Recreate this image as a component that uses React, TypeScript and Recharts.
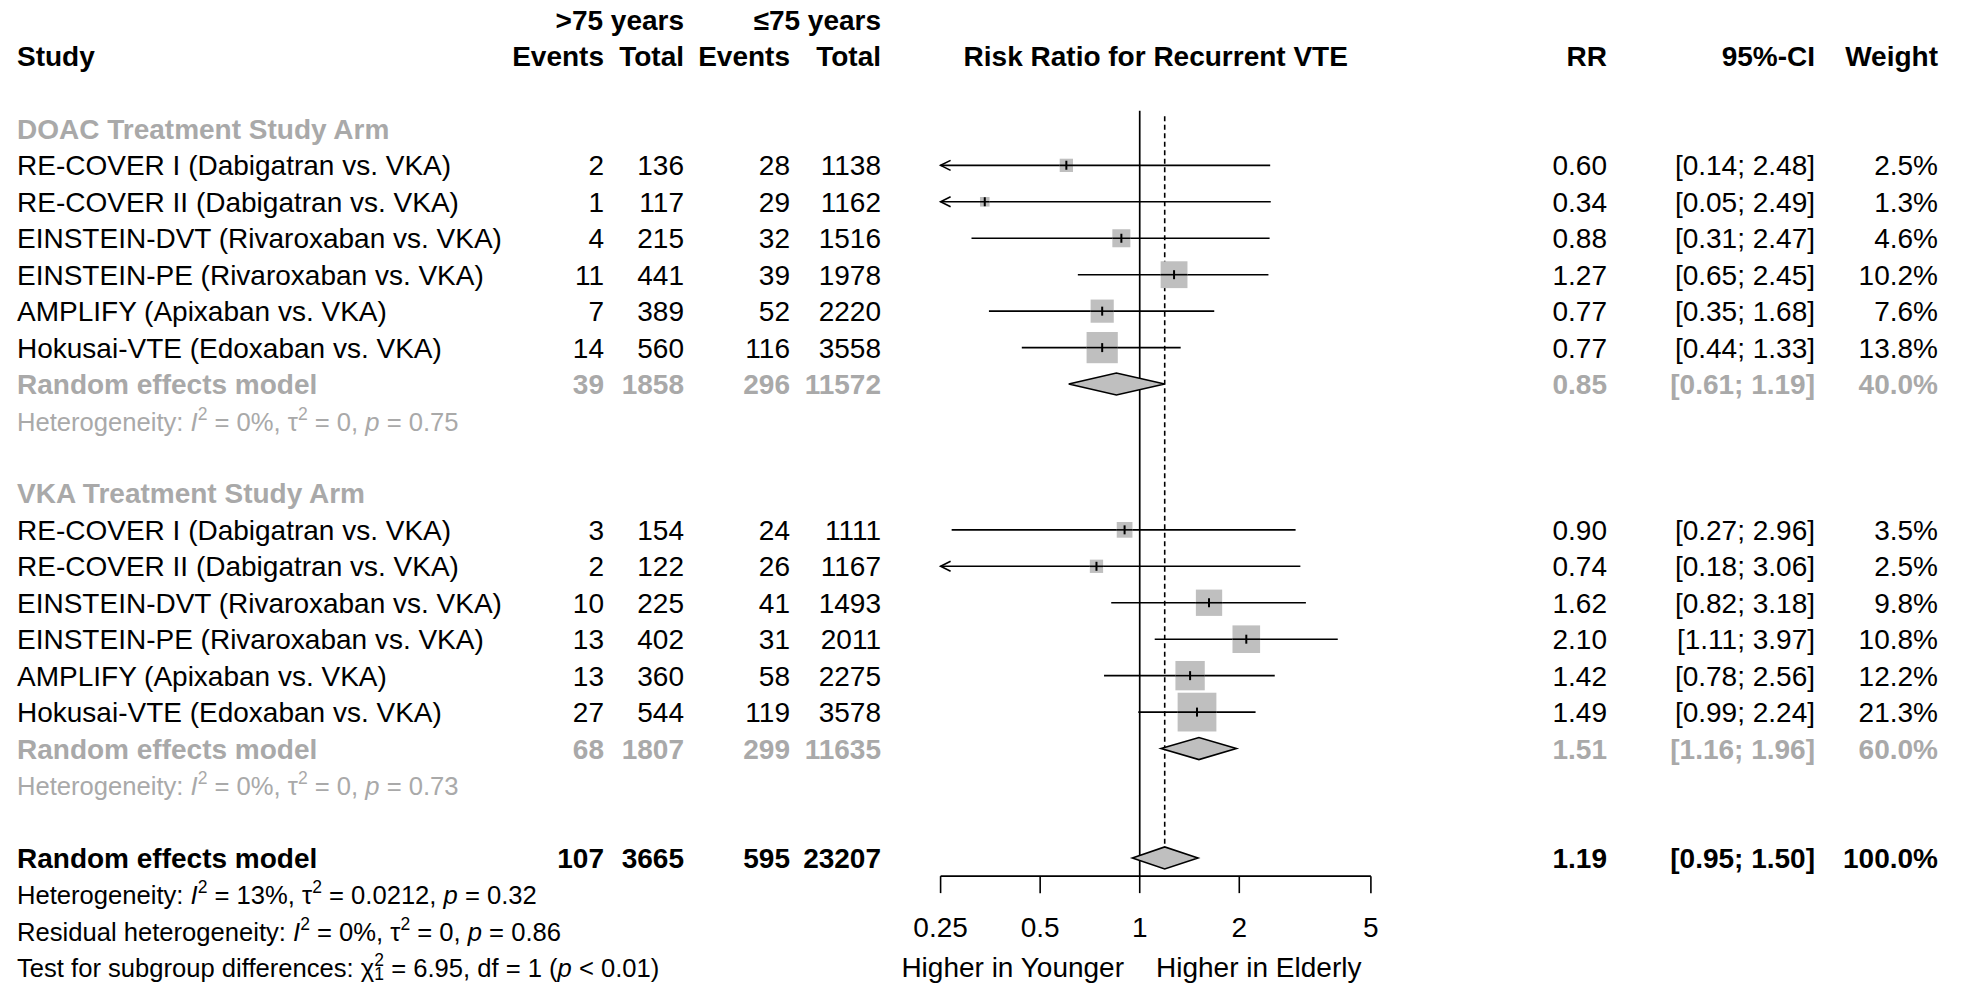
import React from 'react'
import { ComposedChart, XAxis, YAxis, Scatter, ReferenceLine } from 'recharts'

// ── data ────────────────────────────────────────────────────────────────────
const studyNames = [
  'RE-COVER I (Dabigatran vs. VKA)',
  'RE-COVER II (Dabigatran vs. VKA)',
  'EINSTEIN-DVT (Rivaroxaban vs. VKA)',
  'EINSTEIN-PE (Rivaroxaban vs. VKA)',
  'AMPLIFY (Apixaban vs. VKA)',
  'Hokusai-VTE (Edoxaban vs. VKA)',
]

// DOAC arm
const doacEventsOld = [2, 1, 4, 11, 7, 14]
const doacTotalOld = [136, 117, 215, 441, 389, 560]
const doacEventsYoung = [28, 29, 32, 39, 52, 116]
const doacTotalYoung = [1138, 1162, 1516, 1978, 2220, 3558]
const doacRR = [0.6, 0.34, 0.88, 1.27, 0.77, 0.77]
const doacLower = [0.14, 0.05, 0.31, 0.65, 0.35, 0.44]
const doacUpper = [2.48, 2.49, 2.47, 2.45, 1.68, 1.33]
const doacWeight = [2.5, 1.3, 4.6, 10.2, 7.6, 13.8]

// VKA arm
const vkaEventsOld = [3, 2, 10, 13, 13, 27]
const vkaTotalOld = [154, 122, 225, 402, 360, 544]
const vkaEventsYoung = [24, 26, 41, 31, 58, 119]
const vkaTotalYoung = [1111, 1167, 1493, 2011, 2275, 3578]
const vkaRR = [0.9, 0.74, 1.62, 2.1, 1.42, 1.49]
const vkaLower = [0.27, 0.18, 0.82, 1.11, 0.78, 0.99]
const vkaUpper = [2.96, 3.06, 3.18, 3.97, 2.56, 2.24]
const vkaWeight = [3.5, 2.5, 9.8, 10.8, 12.2, 21.3]

// pooled: DOAC, VKA, overall
const pooledEventsOld = [39, 68, 107]
const pooledTotalOld = [1858, 1807, 3665]
const pooledEventsYoung = [296, 299, 595]
const pooledTotalYoung = [11572, 11635, 23207]
const pooledRR = [0.85, 1.51, 1.19]
const pooledLower = [0.61, 1.16, 0.95]
const pooledUpper = [1.19, 1.96, 1.5]
const pooledWeight = [40, 60, 100]

const axisTicks = [0.25, 0.5, 1, 2, 5]

// ── layout ──────────────────────────────────────────────────────────────────
const W = 1962
const H = 984
const FONT = '"Liberation Sans", Arial, Helvetica, sans-serif'
const FS = 28
const HET_FS = 25.6
const SUP = 17.5
const GRAY = '#a9a9a9'
const BOX = '#bfbfbf'
const X_MIN = axisTicks[0]
const X_MAX = axisTicks[axisTicks.length - 1]
const ROW_TOP = 19.55
const ROW_STEP = 36.45
const AXIS_ROW = 23.5
const PLOT_L = 940.6
const PLOT_R = 1370.9
const XAXIS_H = 60
const LW = 1.6

const rowY = (k: number) => ROW_TOP + k * ROW_STEP

// column anchors
const C_STUDY = 17
const C_E1 = 604
const C_T1 = 684
const C_E2 = 790
const C_T2 = 881
const C_RR = 1607
const C_CI = 1815
const C_W = 1938

interface Row {
  k: number
  label: string
  eOld: number
  tOld: number
  eYoung: number
  tYoung: number
  rr: number
  lo: number
  hi: number
  w: number
}

const makeRows = (start: number, eo: number[], to: number[], ey: number[], ty: number[], rr: number[], lo: number[], hi: number[], w: number[]): Row[] =>
  studyNames.map((label, i) => ({
    k: start + i, label, eOld: eo[i], tOld: to[i], eYoung: ey[i], tYoung: ty[i],
    rr: rr[i], lo: lo[i], hi: hi[i], w: w[i],
  }))

const doacRows = makeRows(4, doacEventsOld, doacTotalOld, doacEventsYoung, doacTotalYoung, doacRR, doacLower, doacUpper, doacWeight)
const vkaRows = makeRows(14, vkaEventsOld, vkaTotalOld, vkaEventsYoung, vkaTotalYoung, vkaRR, vkaLower, vkaUpper, vkaWeight)
const studyRows = [...doacRows, ...vkaRows]

const pooledRowIdx = [10, 20, 23]
const pooledRows: Row[] = pooledRowIdx.map((k, i) => ({
  k, label: 'Random effects model', eOld: pooledEventsOld[i], tOld: pooledTotalOld[i],
  eYoung: pooledEventsYoung[i], tYoung: pooledTotalYoung[i], rr: pooledRR[i],
  lo: pooledLower[i], hi: pooledUpper[i], w: pooledWeight[i],
}))

const boxes = studyRows.map(r => ({ x: r.rr, y: r.k, w: r.w }))

// ── marks ───────────────────────────────────────────────────────────────────
const StudyBox = (p: any) => {
  const { cx, cy, payload } = p
  const s = 8.4 * Math.sqrt(payload.w)
  return (
    <g>
      <rect x={cx - s / 2} y={cy - s / 2} width={s} height={s} fill={BOX} />
      {/* CI line stays visible through the box */}
      <line x1={cx - s / 2} x2={cx + s / 2} y1={cy} y2={cy} stroke="#000" strokeWidth={LW} />
      <line x1={cx} x2={cx} y1={cy - 4.5} y2={cy + 4.5} stroke="#000" strokeWidth={2} />
    </g>
  )
}

const CiShape = (p: any) => {
  const { x1, y1, x2, y2, arrowLeft } = p
  return (
    <g>
      <line x1={x1} y1={y1} x2={x2} y2={y2} stroke="#000" strokeWidth={LW} />
      {arrowLeft && (
        <polyline points={`${x1 + 10},${y1 - 5} ${x1},${y1} ${x1 + 10},${y1 + 5}`} fill="none" stroke="#000" strokeWidth={LW} />
      )}
    </g>
  )
}

const DiamondShape = (p: any) => {
  const { x1, y1, x2, frac } = p
  const xc = x1 + frac * (x2 - x1)
  const h = 11
  return (
    <polygon
      points={`${x1},${y1} ${xc},${y1 - h} ${x2},${y1} ${xc},${y1 + h}`}
      fill={BOX} stroke="#000" strokeWidth={LW} strokeLinejoin="miter"
    />
  )
}

// ── text ────────────────────────────────────────────────────────────────────
const T = ({ x, k, anchor = 'start', bold = false, color = '#000', size = FS, children }: any) => (
  <text x={x} y={rowY(k) + 10} textAnchor={anchor} fontWeight={bold ? 700 : 400} fill={color} fontSize={size} fontFamily={FONT}>
    {children}
  </text>
)

const fmtCI = (lo: number, hi: number) => `[${lo.toFixed(2)}; ${hi.toFixed(2)}]`

const RowText = ({ r, bold, color }: { r: Row; bold?: boolean; color?: string }) => (
  <g>
    <T x={C_STUDY} k={r.k} bold={bold} color={color}>{r.label}</T>
    <T x={C_E1} k={r.k} anchor="end" bold={bold} color={color}>{r.eOld}</T>
    <T x={C_T1} k={r.k} anchor="end" bold={bold} color={color}>{r.tOld}</T>
    <T x={C_E2} k={r.k} anchor="end" bold={bold} color={color}>{r.eYoung}</T>
    <T x={C_T2} k={r.k} anchor="end" bold={bold} color={color}>{r.tYoung}</T>
    <T x={C_RR} k={r.k} anchor="end" bold={bold} color={color}>{r.rr.toFixed(2)}</T>
    <T x={C_CI} k={r.k} anchor="end" bold={bold} color={color}>{fmtCI(r.lo, r.hi)}</T>
    <T x={C_W} k={r.k} anchor="end" bold={bold} color={color}>{r.w.toFixed(1) + '%'}</T>
  </g>
)

const Het = ({ k, prefix, i2, tau2, p, color = '#000' }: any) => (
  <T x={C_STUDY} k={k} color={color} size={HET_FS}>
    {prefix}
    <tspan fontStyle="italic">I</tspan>
    <tspan dy={-11} fontSize={SUP}>2</tspan>
    <tspan dy={11}>{` = ${i2}, τ`}</tspan>
    <tspan dy={-11} fontSize={SUP}>2</tspan>
    <tspan dy={11}>{` = ${tau2}, `}</tspan>
    <tspan fontStyle="italic">p</tspan>
    <tspan>{` = ${p}`}</tspan>
  </T>
)

const Overlay = () => (
  <svg width={W} height={H} style={{ position: 'absolute', left: 0, top: 0, pointerEvents: 'none' }}>
    {/* headers */}
    <T x={C_T1} k={0} anchor="end" bold>&gt;75 years</T>
    <T x={C_T2} k={0} anchor="end" bold>≤75 years</T>
    <T x={C_STUDY} k={1} bold>Study</T>
    <T x={C_E1} k={1} anchor="end" bold>Events</T>
    <T x={C_T1} k={1} anchor="end" bold>Total</T>
    <T x={C_E2} k={1} anchor="end" bold>Events</T>
    <T x={C_T2} k={1} anchor="end" bold>Total</T>
    <T x={(PLOT_L + PLOT_R) / 2} k={1} anchor="middle" bold>Risk Ratio for Recurrent VTE</T>
    <T x={C_RR} k={1} anchor="end" bold>RR</T>
    <T x={C_CI} k={1} anchor="end" bold>95%-CI</T>
    <T x={C_W} k={1} anchor="end" bold>Weight</T>

    <T x={C_STUDY} k={3} bold color={GRAY}>DOAC Treatment Study Arm</T>
    {doacRows.map(r => <RowText key={r.k} r={r} />)}
    <RowText r={pooledRows[0]} bold color={GRAY} />
    <Het k={11} prefix="Heterogeneity: " i2="0%" tau2="0" p="0.75" color={GRAY} />

    <T x={C_STUDY} k={13} bold color={GRAY}>VKA Treatment Study Arm</T>
    {vkaRows.map(r => <RowText key={r.k} r={r} />)}
    <RowText r={pooledRows[1]} bold color={GRAY} />
    <Het k={21} prefix="Heterogeneity: " i2="0%" tau2="0" p="0.73" color={GRAY} />

    <RowText r={pooledRows[2]} bold />
    <Het k={24} prefix="Heterogeneity: " i2="13%" tau2="0.0212" p="0.32" />
    <Het k={25} prefix="Residual heterogeneity: " i2="0%" tau2="0" p="0.86" />
    <T x={C_STUDY} k={26} size={HET_FS}>
      {'Test for subgroup differences: χ'}
      <tspan dy={-11} fontSize={SUP}>2</tspan>
      <tspan dx={-9.7} dy={14} fontSize={SUP}>1</tspan>
      <tspan dy={-3}>{' = 6.95, df = 1 ('}</tspan>
      <tspan fontStyle="italic">p</tspan>
      <tspan>{' < 0.01)'}</tspan>
    </T>

    <T x={1124} k={26} anchor="end">Higher in Younger</T>
    <T x={1156} k={26} anchor="start">Higher in Elderly</T>
  </svg>
)

export default function App() {
  const bottom = H - rowY(AXIS_ROW) - XAXIS_H
  const overall = pooledRows[2]
  return (
    <div style={{ position: 'absolute', left: 0, top: 0, width: W, height: H, background: '#fff' }}>
      <ComposedChart width={W} height={H} margin={{ top: ROW_TOP, right: W - PLOT_R, bottom, left: PLOT_L }}>
        <XAxis
          dataKey="x" type="number" scale="log" domain={[X_MIN, X_MAX]} ticks={axisTicks}
          allowDataOverflow interval={0} height={XAXIS_H} tickSize={17} tickMargin={24}
          axisLine={{ stroke: '#000', strokeWidth: LW }}
          tickLine={{ stroke: '#000', strokeWidth: LW }}
          tick={{ fontSize: FS, fill: '#000', fontFamily: FONT }}
          tickFormatter={(v: number) => String(v)}
        />
        <YAxis dataKey="y" type="number" domain={[0, AXIS_ROW]} reversed hide allowDataOverflow />

        {/* null line and pooled estimate */}
        <ReferenceLine segment={[{ x: 1, y: 2.5 }, { x: 1, y: AXIS_ROW }]} ifOverflow="visible" stroke="#000" strokeWidth={1.7} />
        <ReferenceLine segment={[{ x: overall.rr, y: 2.65 }, { x: overall.rr, y: 22.7 }]} ifOverflow="visible" stroke="#000" strokeWidth={1.6} strokeDasharray="5 3.5" />

        {studyRows.map(r => (
          <ReferenceLine
            key={'ci' + r.k}
            segment={[{ x: Math.max(r.lo, X_MIN), y: r.k }, { x: Math.min(r.hi, X_MAX), y: r.k }]}
            ifOverflow="visible"
            shape={(p: any) => <CiShape {...p} arrowLeft={r.lo < X_MIN} />}
          />
        ))}

        <Scatter data={boxes} shape={StudyBox} isAnimationActive={false} />

        {pooledRows.map(r => (
          <ReferenceLine
            key={'dm' + r.k}
            segment={[{ x: r.lo, y: r.k }, { x: r.hi, y: r.k }]}
            ifOverflow="visible"
            shape={(p: any) => (
              <DiamondShape {...p} frac={(Math.log(r.rr) - Math.log(r.lo)) / (Math.log(r.hi) - Math.log(r.lo))} />
            )}
          />
        ))}
      </ComposedChart>
      <Overlay />
    </div>
  )
}
